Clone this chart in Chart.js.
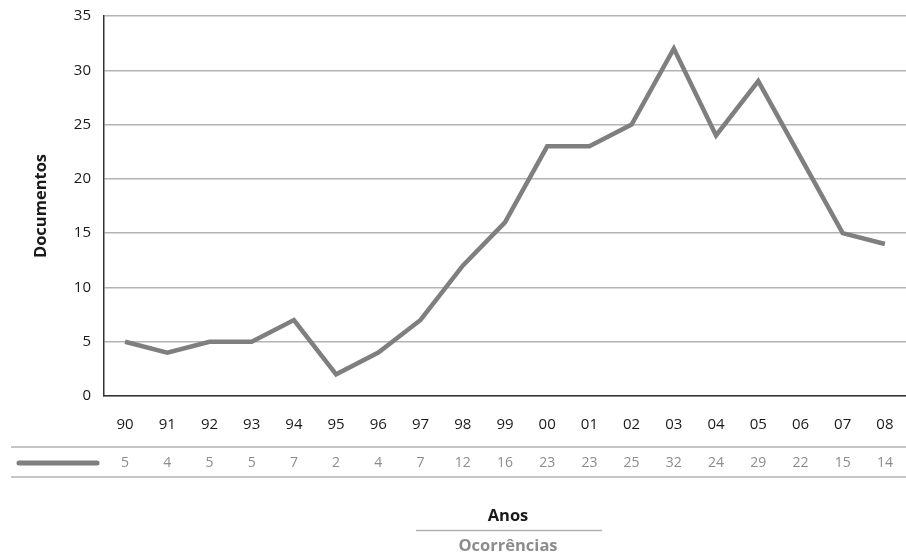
<!DOCTYPE html>
<html>
<head>
<meta charset="utf-8">
<script src="https://cdn.jsdelivr.net/npm/chart.js@4/dist/chart.umd.min.js"></script>
<style>
html,body{margin:0;padding:0;background:#fff;}
#wrap{position:relative;width:906px;height:554px;}
</style>
</head>
<body>
<div id="wrap"><canvas id="c" width="906" height="554"></canvas></div>
<script>
const years = ["90","91","92","93","94","95","96","97","98","99","00","01","02","03","04","05","06","07","08"];
const ocorrencias = [5,4,5,5,7,2,4,7,12,16,23,23,25,32,24,29,22,15,14];
const yTicks = [0,5,10,15,20,25,30,35];
const yAxisTitle = "Documentos";
const xAxisTitle = "Anos";
const seriesName = "Ocorrências";

const FONT = "'Open Sans', sans-serif";
const LINE_COLOR = "#7f7f7f";

const tablePlugin = {
  id: 'tablePlugin',
  afterDraw(chart) {
    const ctx = chart.ctx;
    const xs = chart.scales.x;
    ctx.save();
    ctx.strokeStyle = "#b3b3b3";
    ctx.lineWidth = 1.5;
    ctx.beginPath();
    ctx.moveTo(11, 447); ctx.lineTo(906, 447);
    ctx.moveTo(11, 477); ctx.lineTo(906, 477);
    ctx.stroke();
    ctx.strokeStyle = LINE_COLOR;
    ctx.lineWidth = 5;
    ctx.lineCap = "round";
    ctx.beginPath();
    ctx.moveTo(19, 463); ctx.lineTo(97, 463);
    ctx.stroke();
    ctx.fillStyle = "#8c8c8c";
    ctx.font = "14px " + FONT;
    ctx.textAlign = "center";
    ctx.textBaseline = "middle";
    ocorrencias.forEach((v, i) => {
      ctx.fillText(String(v), xs.getPixelForValue(i), 463);
    });
    ctx.fillStyle = "#1a1a1a";
    ctx.font = "bold 16.5px " + FONT;
    ctx.fillText(xAxisTitle, 508, 516);
    ctx.strokeStyle = "#b3b3b3";
    ctx.lineWidth = 1.5;
    ctx.lineCap = "butt";
    ctx.beginPath();
    ctx.moveTo(416, 530.5); ctx.lineTo(602, 530.5);
    ctx.stroke();
    ctx.fillStyle = "#8c8c8c";
    ctx.fillText(seriesName, 508, 546);
    ctx.restore();
  }
};

new Chart(document.getElementById('c'), {
  type: 'line',
  data: {
    labels: years,
    datasets: [{
      label: seriesName,
      data: ocorrencias,
      borderColor: LINE_COLOR,
      borderWidth: 4.5,
      pointRadius: 0,
      tension: 0,
      fill: false
    }]
  },
  options: {
    responsive: false,
    animation: false,
    layout: { padding: { left: 31, right: 0, top: 16, bottom: 116 } },
    plugins: { legend: { display: false }, tooltip: { enabled: false } },
    scales: {
      x: {
        offset: true,
        grid: { display: true, drawOnChartArea: false, drawTicks: true, tickLength: 16, tickColor: 'rgba(0,0,0,0)' },
        border: { display: true, color: "#333", width: 1.5 },
        ticks: { color: "#1a1a1a", font: { family: FONT, size: 15 }, padding: 4, maxRotation: 0 }
      },
      y: {
        min: 0, max: 35,
        afterBuildTicks(scale) { scale.ticks = yTicks.map(v => ({ value: v })); },
        grid: { color: "#b3b3b3", lineWidth: 1.5, drawTicks: true, tickLength: 9, tickColor: 'rgba(0,0,0,0)' },
        border: { display: true, color: "#333", width: 1.5 },
        ticks: { color: "#1a1a1a", font: { family: FONT, size: 15 }, padding: 4 },
        title: { display: true, text: yAxisTitle, color: "#1a1a1a", font: { family: FONT, size: 16.5, weight: 'bold' }, padding: { top: 0, bottom: 19 } }
      }
    }
  },
  plugins: [tablePlugin]
});
</script>
</body>
</html>
